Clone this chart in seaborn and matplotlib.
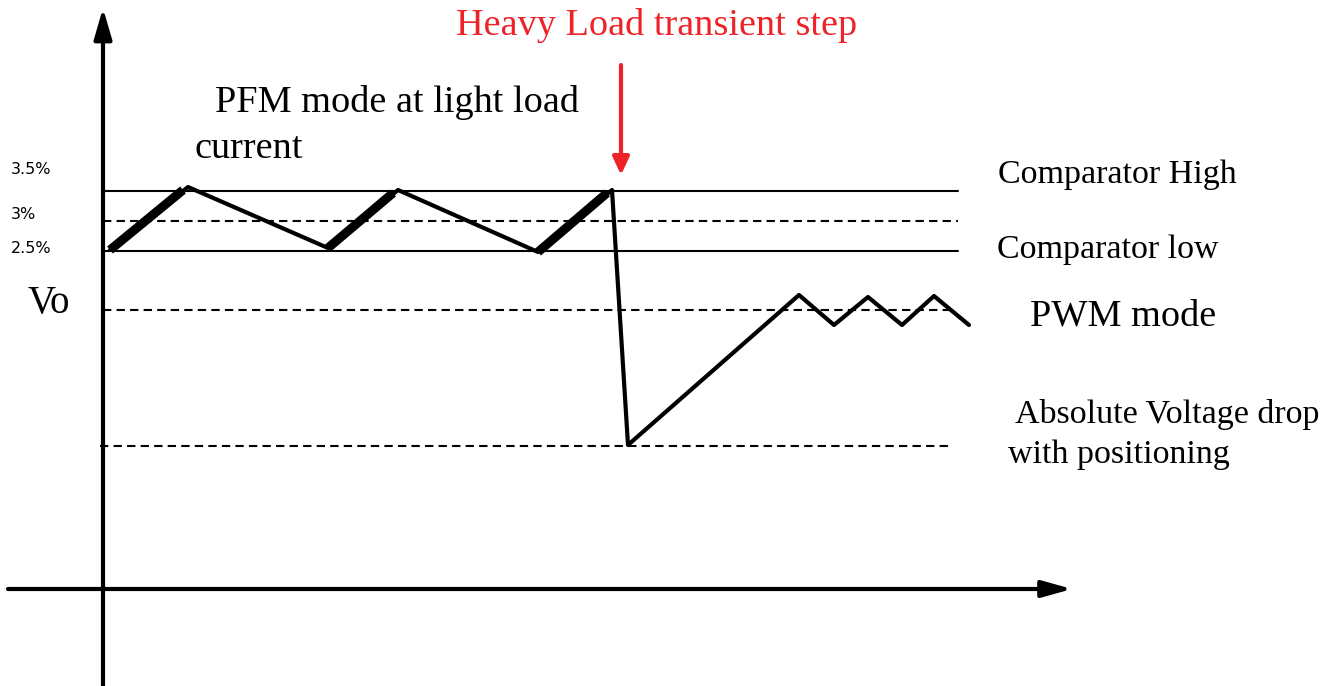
import matplotlib
matplotlib.use("Agg")
import matplotlib.pyplot as plt
import seaborn as sns

# ---- data (picture units: x to the right, y downward) ----
wave_x = [110, 188, 328, 398, 538, 612, 628, 799, 834, 868, 902, 934, 969]
wave_y = [250, 187, 248, 190, 252, 190, 445, 295, 325, 297, 325, 296, 325]
thick_segments = [(0, 1), (2, 3), (4, 5)]   # PFM charging edges

level_names = ["Comparator High", "3%", "Comparator low", "Vo", "Drop"]
level_y = [191, 221, 251, 310, 446]
level_x0 = [103, 103, 103, 103, 100]
level_x1 = [958, 958, 958, 955, 950]
level_dashed = [False, True, False, True, True]

pct_labels = ["3.5%", "3%", "2.5%"]
pct_baseline = [174, 219, 253]

right_labels = ["Comparator High", "Comparator low", "PWM mode",
                "Absolute Voltage drop", "with positioning"]
right_x = [998, 997, 1030, 1015, 1008]
right_baseline = [183, 258, 326, 423, 463]
right_size = [24.5, 24.5, 27.5, 24.5, 24.5]

RED = "#ED2327"

sns.set_theme(style="white")
plt.rcParams["font.family"] = ["Liberation Serif", "DejaVu Serif"]

fig = plt.figure(figsize=(13.41, 6.86), dpi=100)
ax = fig.add_axes([0, 0, 1, 1])
ax.set_xlim(0, 1341)
ax.set_ylim(686, 0)
ax.axis("off")

# reference levels
for y, x0, x1, d in zip(level_y, level_x0, level_x1, level_dashed):
    sns.lineplot(x=[x0, x1], y=[y, y], ax=ax, color="black", lw=1.5,
                 linestyle=(0, (4, 2.5)) if d else "-", estimator=None, sort=False)

# waveform
sns.lineplot(x=wave_x, y=wave_y, ax=ax, color="black", lw=3.0,
             estimator=None, sort=False)
for i, j in thick_segments:
    sns.lineplot(x=[wave_x[i], wave_x[j] - 5], y=[wave_y[i], wave_y[j] + 3], ax=ax,
                 color="black", lw=6.5, estimator=None, sort=False,
                 solid_capstyle="butt")

# axes arrows
ax.annotate("", xy=(103, 8), xytext=(103, 686),
            arrowprops=dict(arrowstyle="-|>,head_length=1.55,head_width=0.45",
                            lw=3, color="black", shrinkA=0, shrinkB=0))
ax.annotate("", xy=(1072, 589), xytext=(8, 589),
            arrowprops=dict(arrowstyle="-|>,head_length=1.5,head_width=0.42",
                            lw=3, color="black", shrinkA=0, shrinkB=0))
# red event arrow
ax.annotate("", xy=(621, 175), xytext=(621, 65),
            arrowprops=dict(arrowstyle="-|>,head_length=0.9,head_width=0.42",
                            lw=3, color=RED, shrinkA=0, shrinkB=0))

# texts
ax.text(657, 35, "Heavy Load transient step", color=RED, fontsize=27.5,
        ha="center", va="baseline")
ax.text(215, 112, "PFM mode at light load", color="black", fontsize=27.5,
        ha="left", va="baseline")
ax.text(195, 158, "current", color="black", fontsize=27.5,
        ha="left", va="baseline")
ax.text(28, 313, "Vo", color="black", fontsize=28, ha="left", va="baseline")

for t, yb in zip(pct_labels, pct_baseline):
    ax.text(11, yb, t, fontsize=11.5, family=["DejaVu Sans"], color="black",
            ha="left", va="baseline")

for t, x, yb, s in zip(right_labels, right_x, right_baseline, right_size):
    ax.text(x, yb, t, fontsize=s, color="black", ha="left", va="baseline")

fig.savefig("out.png", dpi=100, facecolor="white")
